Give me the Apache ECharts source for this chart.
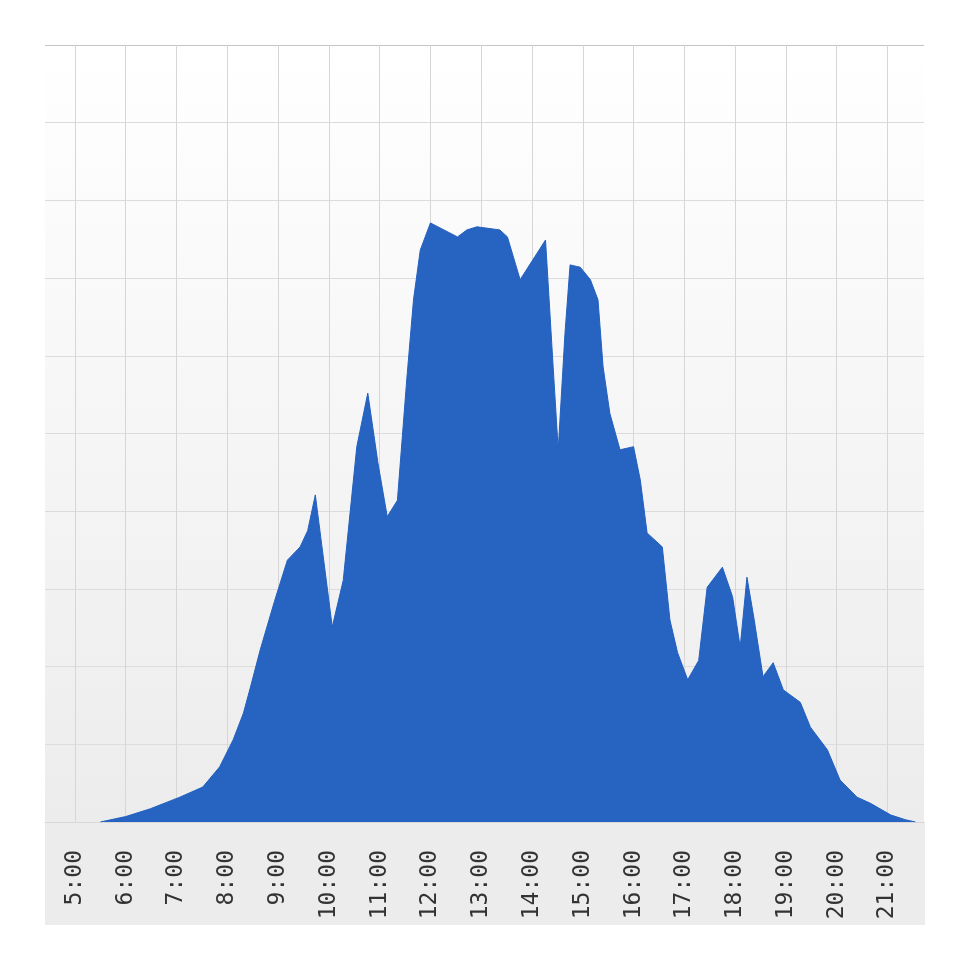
<!DOCTYPE html>
<html>
<head>
<meta charset="utf-8">
<script src="https://cdn.jsdelivr.net/npm/echarts@6/dist/echarts.min.js"></script>
<style>
html,body{margin:0;padding:0;background:#fff;}
#chart{width:970px;height:970px;}
</style>
</head>
<body>
<div id="chart"></div>
<script>
// time of day samples and the output
let times = ["5:30","6:00","6:29","7:04","7:31","7:51","8:07","8:19","8:27","8:39","8:56","9:11","9:26","9:35","9:44",
  "10:04","10:17","10:33","10:46","10:58","11:09","11:21","11:32","11:40","11:48","12:00","12:32","12:43","12:55",
  "13:22","13:31","13:46","14:16","14:25","14:31","14:39","14:45","14:57","15:09","15:18","15:24","15:32","15:44",
  "16:00","16:08","16:16","16:34","16:43","16:52","17:04","17:17","17:27","17:45","17:57","18:06","18:14","18:22",
  "18:33","18:45","18:57","19:17","19:29","19:49","20:04","20:24","20:40","21:04","21:21","21:33"]
let values = [0,0.07,0.17,0.32,0.45,0.71,1.06,1.40,1.72,2.22,2.85,3.37,3.54,3.75,4.21,
  2.51,3.11,4.83,5.52,4.62,3.93,4.14,5.69,6.72,7.36,7.71,7.53,7.62,7.66,
  7.62,7.53,6.98,7.49,5.86,4.79,6.29,7.17,7.14,6.98,6.72,5.86,5.26,4.79,
  4.83,4.40,3.72,3.54,2.60,2.18,1.83,2.08,3.02,3.28,2.90,2.25,3.15,2.64,
  1.87,2.05,1.70,1.54,1.22,0.93,0.54,0.32,0.24,0.09,0.03,0]
let hourTicks = [5,6,7,8,9,10,11,12,13,14,15,16,17,18,19,20,21]

function toHours(t){
  let p = t.split(":")
  return Number(p[0]) + Number(p[1])/60
}
let seriesData = times.map((t,i)=>[toHours(t),values[i]])

let myChart = echarts.init(document.getElementById("chart"))
let splitColors = []
for(let i=0;i<10;i++){ splitColors.push("#dcdcdc") }
splitColors.push("#c4c4c4")

myChart.setOption({
  animation:false,
  graphic:[
    {
      type:"rect",
      left:45,
      top:822,
      shape:{width:880,height:103},
      style:{fill:"#ececec"},
      z:-1
    }
  ],
  grid:{
    left:45,
    right:46,
    top:45,
    bottom:148,
    show:true,
    borderWidth:0,
    backgroundColor:{
      type:"linear",x:0,y:0,x2:0,y2:1,
      colorStops:[{offset:0,color:"#ffffff"},{offset:1,color:"#ececec"}]
    }
  },
  xAxis:{
    type:"value",
    min:4.41,
    max:21.72,
    axisLine:{show:true,lineStyle:{color:"#d8d8d8"}},
    axisTick:{show:false,customValues:hourTicks},
    axisLabel:{
      customValues:hourTicks,
      rotate:90,
      margin:28,
      color:"#333333",
      fontFamily:"DejaVu Sans Mono",
      fontSize:23,
      formatter:function(v){return Math.round(v)+":00"}
    },
    splitLine:{show:true,lineStyle:{color:"#d6d6d6",width:1}}
  },
  yAxis:{
    type:"value",
    min:0,
    max:10,
    interval:1,
    axisLine:{show:false},
    axisTick:{show:false},
    axisLabel:{show:false},
    splitLine:{show:true,lineStyle:{color:splitColors,width:1}}
  },
  series:[
    {
      type:"line",
      data:seriesData,
      showSymbol:false,
      smooth:false,
      lineStyle:{color:"#2360bf",width:1},
      areaStyle:{color:"#2763c1",opacity:1}
    }
  ]
})
</script>
</body>
</html>
